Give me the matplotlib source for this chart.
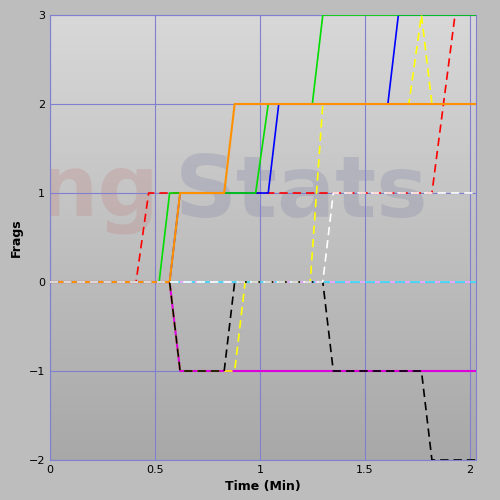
import matplotlib
matplotlib.use("Agg")
import matplotlib.pyplot as plt
import numpy as np

red_x = [0, 0.41, 0.47, 1.82, 1.93, 2.03]; red_y = [0, 0, 1, 1, 3, 3]
green_x = [0, 0.52, 0.57, 0.98, 1.04, 1.25, 1.30, 2.03]; green_y = [0, 0, 1, 1, 2, 2, 3, 3]
orange_x = [0, 0.57, 0.62, 0.83, 0.88, 2.03]; orange_y = [0, 0, 1, 1, 2, 2]
blue_x = [0, 0.57, 0.62, 1.04, 1.09, 1.61, 1.66, 2.03]; blue_y = [0, 0, 1, 1, 2, 2, 3, 3]
yellow_x = [0, 0.57, 0.62, 0.88, 0.93, 1.24, 1.30, 1.71, 1.77, 1.82, 2.03]
yellow_y = [0, 0, -1, -1, 0, 0, 2, 2, 3, 2, 2]
white_x = [0, 1.30, 1.35, 2.03]; white_y = [0, 0, 1, 1]
magenta_x = [0, 0.57, 0.62, 2.03]; magenta_y = [0, 0, -1, -1]
cyan_x = [0, 2.03]; cyan_y = [0, 0]
black_x = [0, 0.57, 0.62, 0.83, 0.88, 1.30, 1.35, 1.77, 1.82, 2.03]
black_y = [0, 0, -1, -1, 0, 0, -1, -1, -2, -2]

fig = plt.figure(figsize=(5, 5), dpi=100)
fig.patch.set_facecolor("#bdbdbd")
ax = fig.add_axes([0.10, 0.08, 0.852, 0.89])
grad = np.linspace(0, 1, 256).reshape(-1, 1)
ax.imshow(grad, extent=[0, 2.03, -2, 3], aspect="auto",
          cmap=matplotlib.colors.LinearSegmentedColormap.from_list("g", ["#a8a8a8", "#d8d8d8"]),
          origin="lower", zorder=0)
ax.text(0.23, 1.0, "ng", fontsize=62, fontweight="bold", color="#c07070", alpha=0.22,
        ha="center", va="center", zorder=1, clip_on=True)
ax.text(1.2, 1.0, "Stats", fontsize=62, fontweight="bold", color="#7070a0", alpha=0.22,
        ha="center", va="center", zorder=1, clip_on=True)

ax.set_xlim(0, 2.03); ax.set_ylim(-2, 3)
ax.set_xticks([0, 0.5, 1, 1.5, 2]); ax.set_xticklabels(["0", "0.5", "1", "1.5", "2"])
ax.set_yticks([-2, -1, 0, 1, 2, 3])
ax.grid(True, color="#8080d0", lw=0.8, zorder=1)
ax.tick_params(length=0, labelsize=8)
for s in ax.spines.values():
    s.set_color("#8080d0")
ax.set_xlabel("Time (Min)", fontsize=9, fontweight="bold")
ax.set_ylabel("Frags", fontsize=9, fontweight="bold")

ax.plot(red_x, red_y, color="red", ls=(0, (5, 3)), lw=1.2, zorder=3)
ax.plot(green_x, green_y, color="#00dd00", lw=1.2, zorder=4)
ax.plot(blue_x, blue_y, color="blue", lw=1.2, zorder=3)
ax.plot(orange_x, orange_y, color="#ff9000", lw=1.5, zorder=5)
ax.plot(white_x, white_y, color="white", ls=(0, (5, 3)), lw=1.2, zorder=6)
ax.plot(magenta_x, magenta_y, color="#dd00dd", lw=1.5, zorder=3)
ax.plot(cyan_x, cyan_y, color="#40e0ff", lw=1.2, zorder=3)
ax.plot(cyan_x, cyan_y, color="#ffa0ff", ls=(3, (3, 6)), lw=1.2, zorder=3)
ax.plot(yellow_x, yellow_y, color="yellow", ls=(0, (5, 3)), lw=1.2, zorder=4)
ax.plot(black_x, black_y, color="black", ls=(0, (5, 3)), lw=1.2, zorder=5)

fig.savefig("out.png", dpi=100, facecolor=fig.get_facecolor())
